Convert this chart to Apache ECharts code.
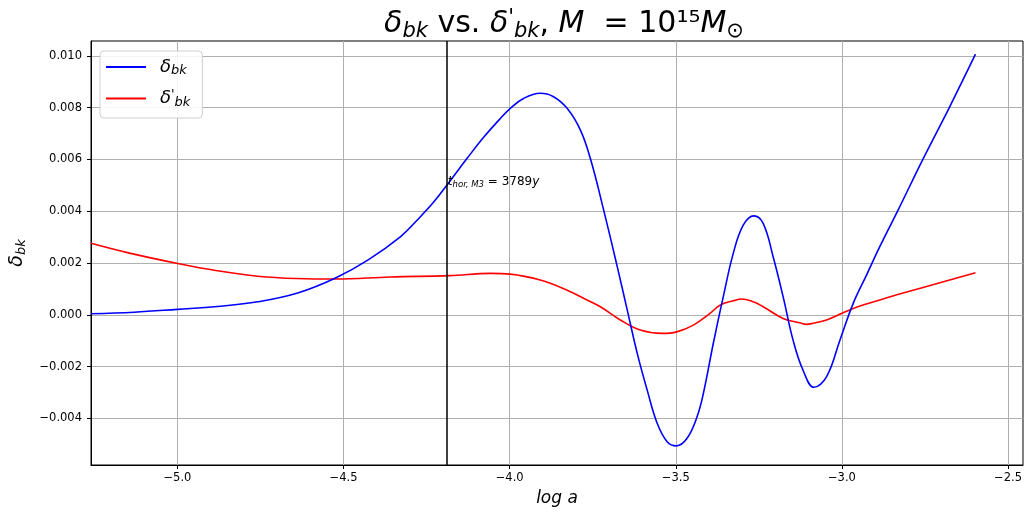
<!DOCTYPE html>
<html>
<head>
<meta charset="utf-8">
<script src="https://cdn.jsdelivr.net/npm/echarts@6/dist/echarts.min.js"></script>
<style>
html,body{margin:0;padding:0;background:#fff;}
#chart{width:1025px;height:517px;}
</style>
</head>
<body>
<div id="chart"></div>
<script>
// ---- data ----
const logA_bk = [-5.26,-5.13,-5.0,-4.88,-4.758,-4.638,-4.524,-4.427,-4.329,-4.278,-4.228,-4.181,-4.128,-4.077,-4.028,-3.998,-3.957,-3.908,-3.868,-3.827,-3.787,-3.757,-3.717,-3.676,-3.646,-3.616,-3.586,-3.556,-3.526,-3.498,-3.466,-3.436,-3.417,-3.387,-3.357,-3.327,-3.297,-3.265,-3.237,-3.207,-3.177,-3.147,-3.117,-3.084,-3.046,-3.006,-2.966,-2.926,-2.886,-2.831,-2.756,-2.676,-2.598];
const delta_bk = [0.00004,0.0001,0.00021,0.00032,0.0005,0.00084,0.00142,0.00211,0.00301,0.00366,0.00436,0.00514,0.00604,0.00687,0.00758,0.00797,0.00836,0.00855,0.00842,0.00797,0.00713,0.00603,0.00404,0.00185,0.00018,-0.00149,-0.00291,-0.00419,-0.0049,-0.00506,-0.00477,-0.00394,-0.00304,-0.0011,0.0007,0.00237,0.00346,0.00382,0.00353,0.00224,0.0007,-0.00098,-0.00214,-0.0028,-0.00239,-0.00098,0.00044,0.00153,0.00263,0.00404,0.00601,0.00802,0.01006];
const logA_bkp = [-5.26,-5.144,-4.999,-4.88,-4.758,-4.64,-4.524,-4.359,-4.181,-4.058,-3.998,-3.908,-3.827,-3.767,-3.727,-3.667,-3.607,-3.542,-3.497,-3.447,-3.397,-3.367,-3.327,-3.302,-3.267,-3.237,-3.177,-3.127,-3.107,-3.087,-3.046,-2.996,-2.946,-2.886,-2.832,-2.598];
const delta_bkp = [0.00276,0.00238,0.00198,0.0017,0.00149,0.0014,0.00138,0.00146,0.00151,0.0016,0.00157,0.00134,0.00095,0.00057,0.00031,-0.0002,-0.00059,-0.00072,-0.00066,-0.0004,0.00005,0.00037,0.00054,0.00061,0.0005,0.00031,-0.00014,-0.00031,-0.00037,-0.00033,-0.0002,0.00008,0.00034,0.00057,0.00078,0.00162];
const xTicks = [-5.0,-4.5,-4.0,-3.5,-3.0,-2.5];
const yTicks = [-0.004,-0.002,0.0,0.002,0.004,0.006,0.008,0.010];
const tHorLogA = -4.186;
const tHorLabelY = 0.00512;
const tHorText = '3789';
const xRange = [-5.26,-2.455];
const yRange = [-0.0058,0.01057];

const F = 'DejaVu Sans';
const minus = s => s.replace('-', '\u2212');
const zip = (a,b) => a.map((v,i)=>[v,b[i]]);

const chart = echarts.init(document.getElementById('chart'), null, {renderer:'canvas'});
const mathRich = (big, small) => ({
  i:{fontFamily:F, fontStyle:'italic', fontWeight:'normal', fontSize:big, color:'#000'},
  n:{fontFamily:F, fontWeight:'normal', fontSize:big, color:'#000'},
  sub:{fontFamily:F, fontStyle:'italic', fontWeight:'normal', fontSize:small, color:'#000', padding:[Math.round(big*0.45),0,0,0]},
  pr:{fontFamily:F, fontWeight:'normal', fontSize:small, color:'#000', padding:[0,0,Math.round(big*0.4),0]}
});

const option = {
  animation:false,
  backgroundColor:'#fff',
  title:{
    text:"{i|δ}{sub|bk}{n| vs. }{i|δ}{pr|'}{sub|bk}{n|, }{i|M}{n|  = 10¹⁵}{i|M}{sub|⊙}",
    left:559, top:2, textAlign:'center',
    textStyle:{fontWeight:'normal', rich:mathRich(30,21)}
  },
  grid:{left:91, right:1, top:41, bottom:52, show:true, borderColor:'#000', borderWidth:1, containLabel:false},
  legend:{
    left:100, top:51, orient:'vertical',
    padding:[6,12,9,6], itemGap:11, itemWidth:40, itemHeight:2,
    icon:'path://M0,0 L40,0 L40,2 L0,2 Z',
    backgroundColor:'rgba(255,255,255,0.85)', borderColor:'#d0d0d0', borderWidth:1, borderRadius:4,
    data:['d1','d2'],
    formatter: name => name==='d1' ? '{p|}{i|δ}{sub|bk}' : "{p|}{i|δ}{pr|'}{sub|bk}",
    textStyle:{lineHeight:20, rich:Object.assign(mathRich(18,13),{p:{width:9}})}
  },
  xAxis:{
    type:'value', min:xRange[0], max:xRange[1],
    name:'log a', nameLocation:'middle', nameGap:25,
    nameTextStyle:{fontFamily:F, fontStyle:'italic', fontSize:17, color:'#000'},
    axisLine:{show:true, onZero:false, lineStyle:{color:'#000', width:1}},
    axisTick:{show:true, length:4, customValues:xTicks, lineStyle:{color:'#000'}},
    axisLabel:{customValues:xTicks, margin:7, fontFamily:F, fontSize:11.5, color:'#000',
      formatter:v=>minus(v.toFixed(1))},
    splitLine:{show:true, lineStyle:{color:'#b0b0b0', width:1}}
  },
  yAxis:{
    type:'value', min:yRange[0], max:yRange[1],
    name:'{i|δ}{sub|bk}', nameLocation:'middle', nameGap:58, nameRotate:90,
    nameTextStyle:{rich:mathRich(19,13)},
    axisLine:{show:true, onZero:false, lineStyle:{color:'#000', width:1}},
    axisTick:{show:true, length:4, customValues:yTicks, lineStyle:{color:'#000'}},
    axisLabel:{customValues:yTicks, margin:9, fontFamily:F, fontSize:11.5, color:'#000',
      formatter:v=>minus(v.toFixed(3))},
    splitLine:{show:true, lineStyle:{color:'#b0b0b0', width:1}}
  },
  series:[
    {
      name:'d1', type:'line', data:zip(logA_bk, delta_bk), symbol:'none',
      smooth:0.4,
      lineStyle:{color:'#0000ff', width:1.6}, itemStyle:{color:'#0000ff'}, z:3,
      markLine:{
        silent:true, symbol:['none','none'], animation:false,
        lineStyle:{color:'#000', width:1.5, type:'solid'},
        label:{show:false},
        data:[{xAxis:tHorLogA}]
      },
      markPoint:{
        silent:true, symbol:'circle', symbolSize:0,
        data:[{coord:[tHorLogA, tHorLabelY]}],
        label:{show:true, position:'right', distance:0,
          formatter:'{i|t}{sub|hor, M3}{n| = ' + tHorText + '}{i|y}',
          rich:mathRich(12,8.5)}
      }
    },
    {
      name:'d2', type:'line', data:zip(logA_bkp, delta_bkp), symbol:'none',
      smooth:0.4,
      lineStyle:{color:'#ff0000', width:1.6}, itemStyle:{color:'#ff0000'}, z:2
    }
  ]
};
chart.setOption(option);
</script>
</body>
</html>
